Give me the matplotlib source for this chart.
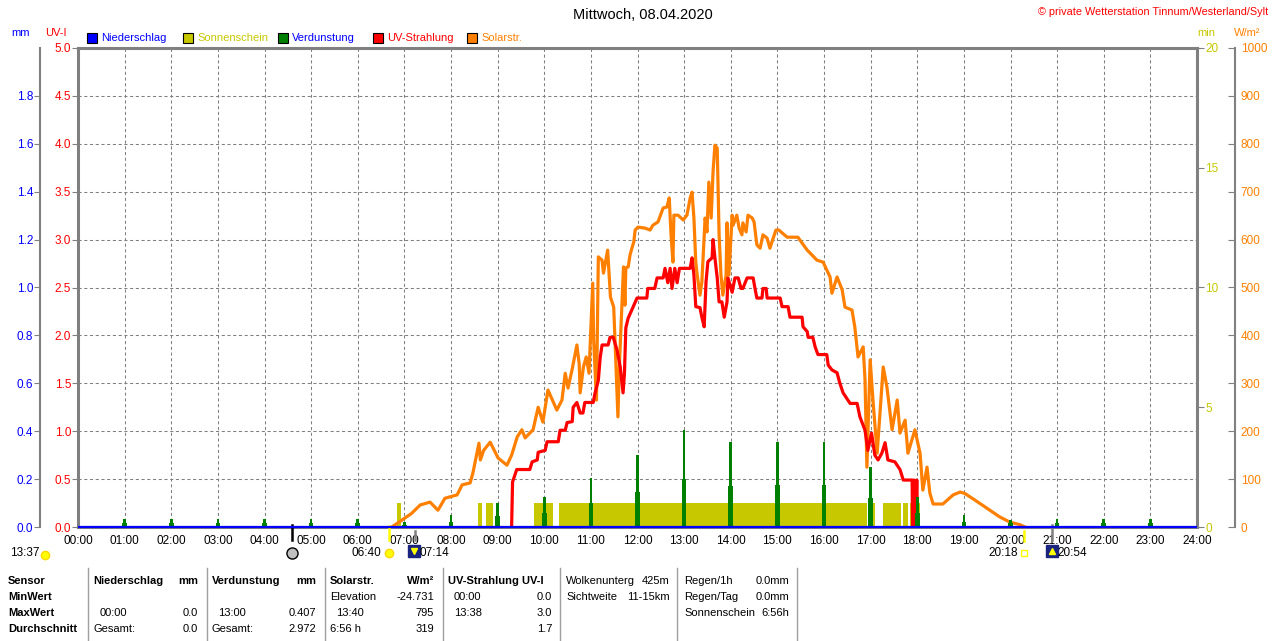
import numpy as np
import matplotlib
matplotlib.use('Agg')
import matplotlib.pyplot as plt
from matplotlib.patches import Rectangle
from matplotlib.lines import Line2D

plt.rcParams['font.family'] = ['Liberation Sans', 'DejaVu Sans']

# --- Daten (Stunden des Tages) ---
# Solarstrahlung W/m2
sol_t = [6.73, 6.85, 7.00, 7.15, 7.34, 7.55, 7.72, 7.87, 8.13, 8.24, 8.41, 8.47, 8.60, 8.63, 8.70,
         8.84, 9.01, 9.20, 9.30, 9.42, 9.52, 9.59, 9.76, 9.87, 9.97, 10.08, 10.27, 10.38, 10.45,
         10.51, 10.60, 10.70, 10.75, 10.77, 10.84, 10.90, 10.96, 11.04, 11.06, 11.12, 11.16,
         11.24, 11.27, 11.36, 11.42, 11.49, 11.58, 11.61, 11.70, 11.73, 11.75, 11.80, 11.84,
         11.88, 11.92, 11.95, 12.01, 12.16, 12.27, 12.33, 12.44, 12.55, 12.63, 12.68, 12.72,
         12.76, 12.78, 12.87, 12.98, 13.06, 13.13, 13.17, 13.21, 13.25, 13.28, 13.34, 13.38,
         13.45, 13.49, 13.53, 13.58, 13.62, 13.66, 13.71, 13.73, 13.75, 13.79, 13.83, 13.90,
         13.92, 13.96, 14.03, 14.05, 14.13, 14.18, 14.24, 14.26, 14.33, 14.37, 14.46, 14.50,
         14.56, 14.63, 14.69, 14.78, 14.84, 14.91, 14.97, 15.03, 15.21, 15.44, 15.64, 15.85,
         15.98, 16.13, 16.17, 16.28, 16.39, 16.45, 16.60, 16.66, 16.73, 16.84, 16.88, 16.92,
         16.99, 17.05, 17.14, 17.27, 17.35, 17.46, 17.57, 17.63, 17.74, 17.80, 17.95, 18.06,
         18.12, 18.21, 18.27, 18.34, 18.55, 18.77, 18.92, 19.02, 19.24, 19.56, 19.77, 19.99,
         20.20, 20.31]
sol_w = [0, 8, 18, 28, 46, 52, 35, 60, 67, 88, 92, 113, 175, 140, 160,
         177, 144, 129, 150, 188, 203, 186, 203, 250, 219, 286, 244, 265, 321,
         290, 330, 380, 340, 280, 334, 355, 321, 509, 390, 265, 564,
         557, 530, 578, 480, 459, 230, 334, 543, 463, 541, 543, 568,
         582, 595, 620, 626, 624, 620, 630, 637, 666, 668, 687, 610,
         553, 651, 651, 641, 651, 687, 699, 645, 553, 526, 484, 511,
         645, 616, 720, 645, 741, 797, 791, 697, 610, 526, 484, 526,
         635, 526, 651, 630, 651, 624, 610, 635, 616, 651, 645, 637,
         589, 582, 610, 603, 582, 603, 620, 620, 605, 605, 578, 557,
         553, 522, 488, 522, 495, 459, 453, 418, 355, 376, 307, 125,
         349, 265, 154, 334, 292, 203, 265, 196, 223, 154, 203, 154,
         77, 125, 71, 48, 48, 67, 73, 70, 56, 35, 21, 10,
         5, 0]

# UV-Index
uv_t = [9.30, 9.32, 9.41, 9.69, 9.74, 9.85, 9.87, 10.02, 10.06, 10.30, 10.34, 10.45, 10.49, 10.60,
        10.62, 10.70, 10.77, 10.83, 10.87, 11.05, 11.09, 11.16, 11.20, 11.24, 11.37, 11.41,
        11.48, 11.56, 11.63, 11.69, 11.72, 11.75, 11.80, 11.90, 11.99, 12.20, 12.22, 12.37,
        12.42, 12.55, 12.59, 12.65, 12.70, 12.74, 12.80, 12.85, 12.90, 13.13, 13.17, 13.21,
        13.25, 13.34, 13.38, 13.43, 13.47, 13.51, 13.60, 13.62, 13.66, 13.71, 13.75, 13.81,
        13.86, 13.92, 13.94, 14.03, 14.09, 14.16, 14.22, 14.26, 14.35, 14.48, 14.52, 14.56,
        14.67, 14.69, 14.76, 14.78, 15.06, 15.10, 15.23, 15.27, 15.53, 15.55, 15.64, 15.66,
        15.76, 15.81, 15.87, 16.06, 16.09, 16.17, 16.28, 16.34, 16.41, 16.56, 16.71, 16.77,
        16.88, 16.94, 17.02, 17.09, 17.16, 17.24, 17.31, 17.37, 17.52, 17.63, 17.70, 17.89,
        17.90, 17.93, 17.96, 17.99, 18.01]
uv_i = [0.0, 0.47, 0.60, 0.60, 0.68, 0.70, 0.78, 0.80, 0.89, 0.89, 1.01, 1.01, 1.09, 1.10,
        1.25, 1.30, 1.19, 1.19, 1.30, 1.30, 1.40, 1.53, 1.77, 1.90, 1.90, 1.98,
        1.98, 1.85, 1.67, 1.40, 1.60, 2.08, 2.18, 2.29, 2.39, 2.39, 2.49, 2.49,
        2.60, 2.60, 2.70, 2.55, 2.70, 2.49, 2.70, 2.55, 2.70, 2.70, 2.81, 2.63,
        2.30, 2.29, 2.19, 2.09, 2.56, 2.77, 2.81, 3.00, 2.81, 2.60, 2.35, 2.35,
        2.19, 2.35, 2.60, 2.45, 2.60, 2.60, 2.49, 2.49, 2.60, 2.60, 2.49, 2.39,
        2.39, 2.49, 2.49, 2.39, 2.39, 2.30, 2.30, 2.19, 2.19, 2.09, 2.04, 1.98,
        1.98, 1.88, 1.80, 1.80, 1.69, 1.64, 1.61, 1.50, 1.40, 1.29, 1.29, 1.15,
        1.01, 0.80, 0.98, 0.75, 0.70, 0.77, 0.88, 0.70, 0.68, 0.60, 0.49, 0.49,
        0.0, 0.49, 0.0, 0.49, 0.0]

# Verdunstung mm pro Stunde (Spitze / Sockel)
evap_h = [1, 2, 3, 4, 5, 6, 7, 8, 9, 10, 11, 12, 13, 14, 15, 16, 17, 18, 19, 20, 21, 22, 23]
evap_top = [0.033, 0.033, 0.033, 0.033, 0.033, 0.033, 0.022, 0.05, 0.099, 0.127, 0.205, 0.30,
            0.405, 0.354, 0.354, 0.354, 0.252, 0.124, 0.05, 0.03, 0.033, 0.033, 0.033]
evap_base = [0.015, 0.015, 0.015, 0.015, 0.015, 0.015, 0.01, 0.022, 0.045, 0.06, 0.10, 0.147,
             0.20, 0.171, 0.175, 0.175, 0.12, 0.058, 0.022, 0.015, 0.015, 0.015, 0.015]

# Sonnenschein (min pro min)
sun_start = [6.835, 8.586, 8.75, 9.78, 10.316, 16.944, 17.259, 17.694, 17.84]
sun_end = [6.92, 8.658, 8.907, 10.18, 16.915, 17.094, 17.645, 17.80, 18.06]
sun_min = [1.0, 1.0, 1.0, 1.0, 1.0, 1.0, 1.0, 1.0, 1.0]

# Niederschlag
rain_t = [0, 24]
rain_mm = [0.0, 0.0]

hours = list(range(25))
hour_labels = ['%02d:00' % h for h in hours]

# Ereignisse unter der Achse (Mond, Sonnenaufgang, Daemmerung ...)
ev_t = [4.59, 6.667, 7.233, 20.30, 20.90]
ev_col = ['black', '#FFFF00', '#808080', '#FFFF00', '#808080']
ev_lo = [-0.027, -0.027, -0.027, -0.029, -0.027]
ev_hi = [0.004, 0.002, -0.008, -0.008, 0.004]

GRAY = '#808080'
OLIVE = '#C8C800'
ORANGE = '#FF8000'
W, H = 1280, 641
FS = 8.5

fig = plt.figure(figsize=(12.8, 6.41), dpi=100)
x0, x1, y0, y1 = 78, 1197, 48, 527
ax = fig.add_axes([x0 / W, 1 - y1 / H, (x1 - x0) / W, (y1 - y0) / H])
ax.set_xlim(0, 24)
ax.set_ylim(0, 5)
ax.set_xticks(hours)
ax.set_xticklabels(hour_labels)
ax.set_yticks(np.arange(0, 5.01, 0.5))
ax.set_yticklabels(['%.1f' % v for v in np.arange(0, 5.01, 0.5)])
ax.tick_params(axis='x', length=0, pad=6, labelsize=FS)
ax.tick_params(axis='y', length=4, color=GRAY, pad=1, labelsize=FS, labelcolor='red')
ax.grid(True, color=GRAY, lw=0.75, dashes=(3, 2.5))
for s in ['top', 'left', 'right', 'bottom']:
    ax.spines[s].set_color(GRAY)
    ax.spines[s].set_linewidth(2.2)

# Sonnenschein
ax_sun = ax.twinx()
ax_sun.set_ylim(0, 20)
ax_sun.bar(sun_start, sun_min, width=np.subtract(sun_end, sun_start), align='edge',
           color=OLIVE, lw=0)
ax_sun.set_yticks([0, 5, 10, 15, 20])
ax_sun.tick_params(axis='y', length=5, color=GRAY, pad=1, labelsize=FS, labelcolor=OLIVE)

# Solarstrahlung
ax_sol = ax.twinx()
ax_sol.set_ylim(0, 1000)
ax_sol.plot(sol_t, sol_w, color=ORANGE, lw=2.3)
ax_sol.set_yticks(range(0, 1001, 100))
ax_sol.tick_params(axis='y', direction='in', length=5, color=GRAY, pad=4,
                   labelsize=FS, labelcolor=ORANGE)
ax_sol.spines['right'].set_position(('axes', (1235 - x0) / (x1 - x0)))
ax_sol.spines['right'].set_color(GRAY)
ax_sol.spines['right'].set_linewidth(1.5)

# UV-Strahlung
ax_uv = ax.twinx()
ax_uv.set_ylim(0, 5)
ax_uv.plot(uv_t, uv_i, color='#FF0000', lw=2.3)
ax_uv.set_yticks([])

# Verdunstung + Niederschlag
ax_mm = ax.twinx()
ax_mm.set_ylim(0, 2)
ax_mm.bar(evap_h, evap_base, width=0.1, color='#008000', lw=0)
ax_mm.bar(evap_h, evap_top, width=0.055, color='#008000', lw=0)
ax_mm.plot(rain_t, rain_mm, color='#0000FF', lw=1.6, clip_on=False, solid_capstyle='butt')
ax_mm.yaxis.tick_left()
ax_mm.spines['left'].set_position(('axes', (40 - x0) / (x1 - x0)))
ax_mm.spines['left'].set_color(GRAY)
ax_mm.spines['left'].set_linewidth(1.5)
ax_mm.spines['left'].set_visible(True)
ax_mm.set_yticks(np.arange(0, 1.81, 0.2))
ax_mm.set_yticklabels(['%.1f' % v for v in np.arange(0, 1.81, 0.2)])
ax_mm.tick_params(axis='y', length=4, color=GRAY, pad=1, labelsize=FS, labelcolor='#0000FF')

for a in [ax_sun, ax_sol, ax_uv, ax_mm]:
    for s in ['top', 'bottom']:
        a.spines[s].set_visible(False)
for a in [ax_sun, ax_uv]:
    a.spines['right'].set_visible(False)
    a.spines['left'].set_visible(False)
ax_sol.spines['left'].set_visible(False)
ax_mm.spines['right'].set_visible(False)

# Ereignismarken an der Zeitachse
xt = ax.get_xaxis_transform()
for t, c, lo, hi in zip(ev_t, ev_col, ev_lo, ev_hi):
    ax.plot([t, t], [lo, hi], color=c, lw=1.8, transform=xt, clip_on=False, zorder=5)

# Symbole unter der Achse
yi = -0.054
ax.plot([4.59], [yi], 'o', ms=8, mfc='#C0C0C0', mec='black', mew=1, transform=xt, clip_on=False)
ax.plot([6.68], [yi], 'o', ms=6, mfc='#FFFF00', mec='#FFD700', transform=xt, clip_on=False)
ax.text(6.50, yi, '06:40', ha='right', va='center', fontsize=FS, transform=xt)
ax.plot([7.21], [yi + 0.004], 's', ms=8, mfc='#1A237E', mec='#1A237E', transform=xt, clip_on=False)
ax.plot([7.21], [yi + 0.004], 'v', ms=4, mfc='#FFFF00', mec='#FFFF00', transform=xt, clip_on=False)
ax.text(7.33, yi, '07:14', ha='left', va='center', fontsize=FS, transform=xt)
ax.plot([20.29], [yi], 's', ms=5, mfc='none', mec='#FFFF00', mew=1, transform=xt, clip_on=False)
ax.text(20.15, yi, '20:18', ha='right', va='center', fontsize=FS, transform=xt)
ax.plot([20.89], [yi + 0.004], 's', ms=8, mfc='#1A237E', mec='#1A237E', transform=xt, clip_on=False)
ax.plot([20.89], [yi + 0.004], '^', ms=4, mfc='#FFFF00', mec='#FFFF00', transform=xt, clip_on=False)
ax.text(21.01, yi, '20:54', ha='left', va='center', fontsize=FS, transform=xt)
fig.text(10 / W, 1 - 553 / H, '13:37', ha='left', va='center', fontsize=FS)
fig.add_artist(Line2D([45 / W], [1 - 555 / H], marker='o', ms=6, mfc='#FFFF00', mec='#FFD700'))

# Titel und Kopf
fig.text(643 / W, 1 - 15 / H, 'Mittwoch, 08.04.2020', ha='center', va='center', fontsize=10.5)
fig.text(1268 / W, 1 - 12 / H, '\u00a9 private Wetterstation Tinnum/Westerland/Sylt',
         ha='right', va='center', fontsize=7.8, color='red')
fig.text(21 / W, 1 - 33 / H, 'mm', ha='center', va='center', fontsize=8, color='#0000FF')
fig.text(56 / W, 1 - 33 / H, 'UV-I', ha='center', va='center', fontsize=8, color='red')
fig.text(1206 / W, 1 - 33 / H, 'min', ha='center', va='center', fontsize=8, color=OLIVE)
fig.text(1247 / W, 1 - 33 / H, 'W/m\u00b2', ha='center', va='center', fontsize=8, color=ORANGE)

legend = [(87, '#0000FF', 'Niederschlag', '#0000FF'),
          (183, OLIVE, 'Sonnenschein', OLIVE),
          (278, '#008000', 'Verdunstung', '#0000FF'),
          (373, '#FF0000', 'UV-Strahlung', '#FF0000'),
          (467, ORANGE, 'Solarstr.', ORANGE)]
for lx, fc, txt, tc in legend:
    fig.add_artist(Rectangle((lx / W, 1 - 43 / H), 10 / W, 10 / H, facecolor=fc,
                             edgecolor='black', lw=0.8, transform=fig.transFigure))
    fig.text((lx + 14) / W, 1 - 38 / H, txt, ha='left', va='center', fontsize=8, color=tc)

# Tabelle unten
for lx in [88, 207, 325, 443, 560, 677, 797]:
    fig.add_artist(Line2D([lx / W, lx / W], [0, 1 - 568 / H], color='#A0A0A0', lw=1))

rows = [581, 597, 613, 629]
cells = [
    (8, 0, 'Sensor', 'left', True), (8, 1, 'MinWert', 'left', True),
    (8, 2, 'MaxWert', 'left', True), (8, 3, 'Durchschnitt', 'left', True),
    (93, 0, 'Niederschlag', 'left', True), (198, 0, 'mm', 'right', True),
    (100, 2, '00:00', 'left', False), (198, 2, '0.0', 'right', False),
    (93, 3, 'Gesamt:', 'left', False), (198, 3, '0.0', 'right', False),
    (212, 0, 'Verdunstung', 'left', True), (316, 0, 'mm', 'right', True),
    (218, 2, '13:00', 'left', False), (316, 2, '0.407', 'right', False),
    (212, 3, 'Gesamt:', 'left', False), (316, 3, '2.972', 'right', False),
    (330, 0, 'Solarstr.', 'left', True), (434, 0, 'W/m\u00b2', 'right', True),
    (330, 1, 'Elevation', 'left', False), (434, 1, '-24.731', 'right', False),
    (336, 2, '13:40', 'left', False), (434, 2, '795', 'right', False),
    (330, 3, '6:56 h', 'left', False), (434, 3, '319', 'right', False),
    (448, 0, 'UV-Strahlung UV-I', 'left', True),
    (454, 1, '00:00', 'left', False), (552, 1, '0.0', 'right', False),
    (454, 2, '13:38', 'left', False), (552, 2, '3.0', 'right', False),
    (552, 3, '1.7', 'right', False),
    (566, 0, 'Wolkenunterg', 'left', False), (669, 0, '425m', 'right', False),
    (566, 1, 'Sichtweite', 'left', False), (670, 1, '11-15km', 'right', False),
    (684, 0, 'Regen/1h', 'left', False), (789, 0, '0.0mm', 'right', False),
    (684, 1, 'Regen/Tag', 'left', False), (789, 1, '0.0mm', 'right', False),
    (684, 2, 'Sonnenschein', 'left', False), (789, 2, '6:56h', 'right', False),
]
for cx, r, txt, ha, bold in cells:
    fig.text(cx / W, 1 - rows[r] / H, txt, ha=ha, va='center', fontsize=8,
             fontweight='bold' if bold else 'normal')

fig.savefig('out.png', dpi=100)
